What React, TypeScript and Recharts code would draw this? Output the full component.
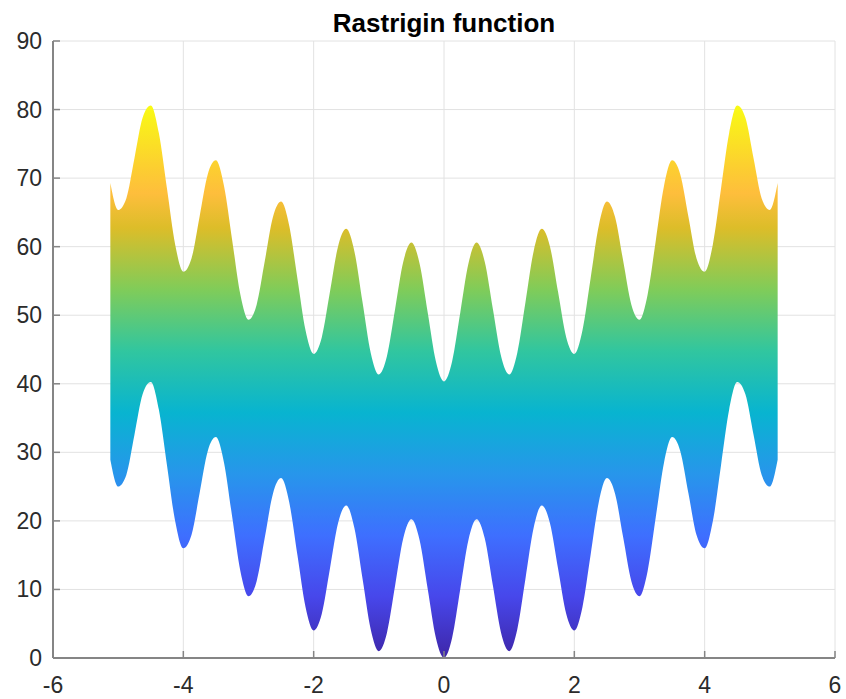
import React from 'react';
import { AreaChart, Area, XAxis, YAxis, CartesianGrid } from 'recharts';

const FONT = '"Liberation Sans", Arial, Helvetica, sans-serif';
const AXIS_GRAY = '#858585';
const TEXT_COLOR = '#2b2b2b';

// sample positions along x
const xValues = [
  -5.12, -5, -4.875, -4.75, -4.625, -4.5, -4.375, -4.25, -4.125, -4,
  -3.875, -3.75, -3.625, -3.5, -3.375, -3.25, -3.125, -3,
  -2.875, -2.75, -2.625, -2.5, -2.375, -2.25, -2.125, -2,
  -1.875, -1.75, -1.625, -1.5, -1.375, -1.25, -1.125, -1,
  -0.875, -0.75, -0.625, -0.5, -0.375, -0.25, -0.125, 0,
  0.125, 0.25, 0.375, 0.5, 0.625, 0.75, 0.875, 1,
  1.125, 1.25, 1.375, 1.5, 1.625, 1.75, 1.875, 2,
  2.125, 2.25, 2.375, 2.5, 2.625, 2.75, 2.875, 3,
  3.125, 3.25, 3.375, 3.5, 3.625, 3.75, 3.875, 4,
  4.125, 4.25, 4.375, 4.5, 4.625, 4.75, 4.875, 5, 5.12,
];

// lower edge of the surface seen from the side
const lowerValues = [
  28.92, 25, 26.69, 32.56, 38.46, 40.25, 36.21, 28.06, 19.94, 16,
  17.94, 24.06, 30.21, 32.25, 28.46, 20.56, 12.69, 9,
  11.19, 17.56, 23.96, 26.25, 22.71, 15.06, 7.44, 4,
  6.44, 13.06, 19.71, 22.25, 18.96, 11.56, 4.19, 1,
  3.69, 10.56, 17.46, 20.25, 17.21, 10.06, 2.94, 0,
  2.94, 10.06, 17.21, 20.25, 17.46, 10.56, 3.69, 1,
  4.19, 11.56, 18.96, 22.25, 19.71, 13.06, 6.44, 4,
  7.44, 15.06, 22.71, 26.25, 23.96, 17.56, 11.19, 9,
  12.69, 20.56, 28.46, 32.25, 30.21, 24.06, 17.94, 16,
  19.94, 28.06, 36.21, 40.25, 38.46, 32.56, 26.69, 25, 28.92,
];

// upper edge of the surface
const upperValues = [
  69.27, 65.35, 67.04, 72.91, 78.81, 80.6, 76.56, 68.41, 60.29, 56.35,
  58.29, 64.41, 70.56, 72.6, 68.81, 60.91, 53.04, 49.35,
  51.54, 57.91, 64.31, 66.6, 63.06, 55.41, 47.79, 44.35,
  46.79, 53.41, 60.06, 62.6, 59.31, 51.91, 44.54, 41.35,
  44.04, 50.91, 57.81, 60.6, 57.56, 50.41, 43.29, 40.35,
  43.29, 50.41, 57.56, 60.6, 57.81, 50.91, 44.04, 41.35,
  44.54, 51.91, 59.31, 62.6, 60.06, 53.41, 46.79, 44.35,
  47.79, 55.41, 63.06, 66.6, 64.31, 57.91, 51.54, 49.35,
  53.04, 60.91, 68.81, 72.6, 70.56, 64.41, 58.29, 56.35,
  60.29, 68.41, 76.56, 80.6, 78.81, 72.91, 67.04, 65.35, 69.27,
];

const xTicks = [-6, -4, -2, 0, 2, 4, 6];
const yTicks = [0, 10, 20, 30, 40, 50, 60, 70, 80, 90];

// parula colormap, top (high z) to bottom (low z)
const parulaStops = [
  { offset: 0, color: '#f9fb14' },
  { offset: 0.111, color: '#fccf30' },
  { offset: 0.159, color: '#febe3c' },
  { offset: 0.222, color: '#dcbd29' },
  { offset: 0.333, color: '#80cc59' },
  { offset: 0.444, color: '#31c69f' },
  { offset: 0.556, color: '#08b4d0' },
  { offset: 0.667, color: '#2796eb' },
  { offset: 0.778, color: '#3e6fff' },
  { offset: 0.889, color: '#4747eb' },
  { offset: 1, color: '#3e26a8' },
];

const data = xValues.map((x, i) => ({ x, range: [lowerValues[i], upperValues[i]] }));

const XTick = (props: any) => {
  const { x, y, payload } = props;
  return (
    <g>
      <line x1={x} x2={x} y1={y} y2={y - 7} stroke={AXIS_GRAY} strokeWidth={1.5} />
      <text x={x} y={y + 35} textAnchor="middle" fill={TEXT_COLOR} fontSize={23} fontFamily={FONT}>
        {String(payload.value)}
      </text>
    </g>
  );
};

const YTick = (props: any) => {
  const { x, y, payload } = props;
  return (
    <g>
      <line x1={x} x2={x + 7} y1={y} y2={y} stroke={AXIS_GRAY} strokeWidth={1.5} />
      <text x={x - 11} y={y + 8} textAnchor="end" fill={TEXT_COLOR} fontSize={23} fontFamily={FONT}>
        {String(payload.value)}
      </text>
    </g>
  );
};

const App: React.FC = () => {
  return (
    <div style={{ position: 'absolute', left: 0, top: 0, width: 846, height: 699, background: '#fff' }}>
      <div
        style={{
          position: 'absolute',
          left: 53,
          width: 782,
          top: 10,
          textAlign: 'center',
          fontFamily: FONT,
          fontWeight: 'bold',
          fontSize: 26,
          lineHeight: '26px',
          color: '#000',
        }}
      >
        Rastrigin function
      </div>
      <AreaChart width={846} height={699} data={data} margin={{ top: 41, right: 11, left: 8, bottom: 11 }}>
        <defs>
          <linearGradient id="parula" x1="0" y1="0" x2="0" y2="1">
            {parulaStops.map((s) => (
              <stop key={s.offset} offset={s.offset} stopColor={s.color} />
            ))}
          </linearGradient>
        </defs>
        <CartesianGrid stroke="#e2e2e2" strokeWidth={1} />
        <XAxis
          type="number"
          dataKey="x"
          domain={[-6, 6]}
          ticks={xTicks}
          height={30}
          tickSize={0}
          tickMargin={0}
          tickLine={false}
          tick={<XTick />}
          axisLine={{ stroke: AXIS_GRAY, strokeWidth: 2 }}
        />
        <YAxis
          type="number"
          domain={[0, 90]}
          ticks={yTicks}
          width={45}
          tickSize={0}
          tickMargin={0}
          tickLine={false}
          tick={<YTick />}
          axisLine={{ stroke: AXIS_GRAY, strokeWidth: 2 }}
        />
        <Area
          type="monotone"
          dataKey="range"
          stroke="none"
          fill="url(#parula)"
          fillOpacity={1}
          isAnimationActive={false}
          dot={false}
          activeDot={false}
        />
      </AreaChart>
    </div>
  );
};

export default App;
